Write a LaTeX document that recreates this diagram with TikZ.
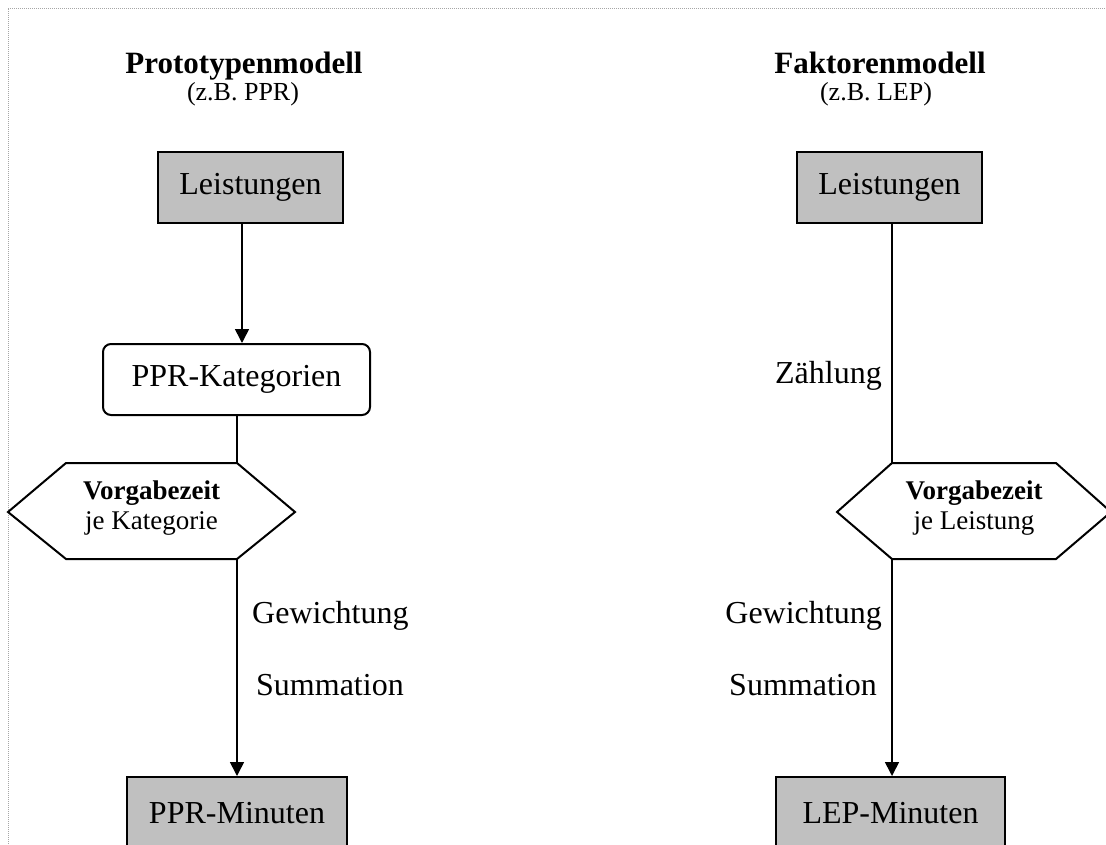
\documentclass[tikz,border=0pt]{standalone}
\usepackage{fontspec}
\setmainfont{Liberation Serif}
\usetikzlibrary{arrows.meta}
\definecolor{boxgray}{HTML}{C0C0C0}
\begin{document}
\begin{tikzpicture}[x=1pt,y=-1pt,
  big/.style={font=\fontsize{32}{38}\selectfont},
  graybox/.style={draw=black, line width=2pt, fill=boxgray, inner sep=0pt, big},
  catbox/.style={draw=black, line width=2pt, fill=white, rounded corners=8pt, inner sep=0pt, big},
  hexline/.style={draw=black, line width=2pt, line join=miter},
  hextext/.style={align=center, inner sep=0pt, font=\fontsize{27}{30}\selectfont},
  title/.style={inner sep=0pt, anchor=base, font=\fontsize{31}{36}\selectfont\bfseries},
  subtitle/.style={inner sep=0pt, anchor=base, font=\fontsize{26}{30}\selectfont},
  lbl/.style={inner sep=0pt, big},
  conn/.style={draw=black, line width=1.6pt},
  arr/.style={conn, -{Triangle[length=14pt, width=14pt]}},
  frame/.style={draw=gray!70, line width=0.8pt, dash pattern=on 1pt off 1pt}
]
\useasboundingbox (0,0) rectangle (1106,844);
\clip (0,0) rectangle (1106,844);
\draw[frame] (8,844) -- (8,8) -- (1106,8);

% titles
\node[title] (t1) at (244,73) {Prototypenmodell};
\node[subtitle] (s1) at (243,100) {(z.B. PPR)};
\node[title] (t2) at (880,73) {Faktorenmodell};
\node[subtitle] (s2) at (876,100) {(z.B. LEP)};

% left column
\node[graybox, minimum width=185, minimum height=71] (L1) at (250.5,187.5) {Leistungen};
\node[catbox, minimum width=267, minimum height=71] (K) at (236.5,379.5) {PPR-Kategorien};
\coordinate (h1tl) at (66,463);
\coordinate (h1tr) at (237,463);
\coordinate (h1r) at (295,512);
\coordinate (h1br) at (237,559);
\coordinate (h1bl) at (66,559);
\coordinate (h1l) at (8,512);
\draw[hexline, fill=white] (h1tl) -- (h1tr) -- (h1r) -- (h1br) -- (h1bl) -- (h1l) -- cycle;
\node[hextext] (V1) at (151.5,508) {\textbf{Vorgabezeit}\\je Kategorie};
\node[graybox, anchor=north, minimum width=220, minimum height=72] (M1) at (237,776) {PPR-Minuten};
\coordinate (ax) at (242,0);

\draw[arr] (L1.south -| ax) -- (K.north -| ax);
\draw[conn] (K.south -| h1tr) -- (h1tr);
\draw[arr] (h1br) -- (M1.north -| h1br);
\node[lbl, anchor=base west] (g1) at (252,623) {Gewichtung};
\node[lbl, anchor=base west] (u1) at (256,695) {Summation};

% right column
\node[graybox, minimum width=185, minimum height=71] (L2) at (889.5,187.5) {Leistungen};
\coordinate (h2tl) at (892,463);
\coordinate (h2tr) at (1056,463);
\coordinate (h2r) at (1111,512);
\coordinate (h2br) at (1056,559);
\coordinate (h2bl) at (892,559);
\coordinate (h2l) at (837,512);
\draw[hexline, fill=white] (h2tl) -- (h2tr) -- (h2r) -- (h2br) -- (h2bl) -- (h2l) -- cycle;
\node[hextext] (V2) at (974,508) {\textbf{Vorgabezeit}\\je Leistung};
\node[graybox, anchor=north, minimum width=229, minimum height=72] (M2) at (890.5,776) {LEP-Minuten};

\draw[conn] (L2.south -| h2tl) -- (h2tl);
\draw[arr] (h2bl) -- (M2.north -| h2bl);
\node[lbl, anchor=base east] (z2) at (882,383) {Zählung};
\node[lbl, anchor=base east] (g2) at (882,623) {Gewichtung};
\node[lbl, anchor=base east] (u2) at (877,695) {Summation};
\end{tikzpicture}
\end{document}
